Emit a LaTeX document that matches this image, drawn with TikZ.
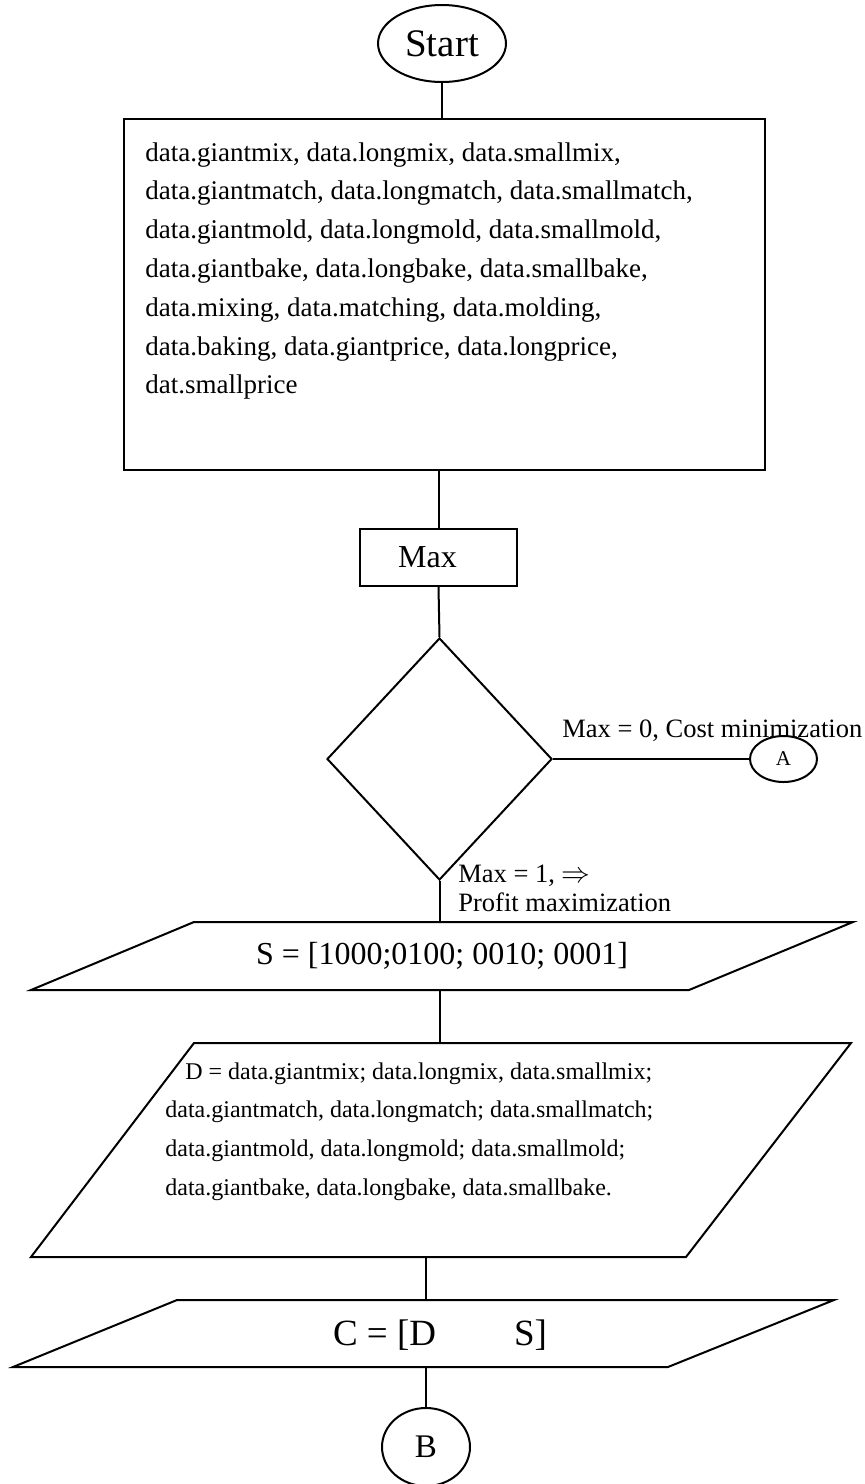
\documentclass[tikz,border=0pt]{standalone}
\usepackage{fontspec}
\setmainfont{Liberation Serif}
\usetikzlibrary{positioning, shapes.geometric}
\tikzset{
    flow/.style={line width=1pt},
    terminal/.style={ellipse, draw, line width=1pt, inner sep=0pt},
    process/.style={rectangle, draw, line width=1pt, inner sep=0pt},
    decision/.style={diamond, draw, line width=1pt, inner sep=0pt},
    txt/.style={inner sep=0pt, align=left},
  }
\begin{document}
\begin{tikzpicture}[x=0.5pt, y=-0.5pt]
\useasboundingbox (0,0) rectangle (864,1484);
% top part
\node[terminal, minimum width=64pt, minimum height=38.5pt, font=\fontsize{19.5}{22}\selectfont] (start) at (442,43.5) {Start};
\node[process, minimum width=320.5pt, minimum height=175.5pt] (databox) at (444.5,294.5) {};
\node[txt, anchor=north west, font=\fontsize{13.5}{19.4}\selectfont] (datatxt) at (145,142) {data.giantmix, data.longmix, data.smallmix,\\
data.giantmatch, data.longmatch, data.smallmatch,\\
data.giantmold, data.longmold, data.smallmold,\\
data.giantbake, data.longbake, data.smallbake,\\
data.mixing, data.matching, data.molding,\\
data.baking, data.giantprice, data.longprice,\\
dat.smallprice};
\node[process, minimum width=78.5pt, minimum height=28.5pt, font=\fontsize{16}{18}\selectfont] (maxbox) at (438.5,557.5) {Max\hspace*{11pt}};
% decision
\node[decision, minimum width=112.5pt, minimum height=121pt] (choice) at (439.5,759) {};
\node[terminal, minimum width=33.5pt, minimum height=23pt, font=\fontsize{10.5}{12}\selectfont] (conA) at (783.5,759) {A};
\node[txt, anchor=base west, font=\fontsize{13.25}{16}\selectfont] (costlbl) at (562,737) {Max = 0, Cost minimization};
\node[txt, anchor=north west, font=\fontsize{13.25}{14.5}\selectfont] (profitlbl) at (458,865) {Max = 1, $\Rightarrow$\\Profit maximization};
% matrices (slanted boxes)
\draw[flow] (31,990) -- (194,922) -- (853,922) -- (689,990) -- cycle;
\coordinate (stop) at (439.5,922);
\coordinate (sbot) at (439.5,990);
\node[txt, font=\fontsize{16}{19}\selectfont] (stxt) at (442,956) {S = [1000;0100; 0010; 0001]};
\draw[flow] (31,1257) -- (194,1043) -- (851,1043) -- (686,1257) -- cycle;
\coordinate (dtop) at (439.5,1043);
\coordinate (dbot) at (426,1257);
\node[txt, anchor=north west, font=\fontsize{12}{19.4}\selectfont] (dtxt) at (165,1062) {\hspace*{10pt}D = data.giantmix; data.longmix, data.smallmix;\\
data.giantmatch, data.longmatch; data.smallmatch;\\
data.giantmold, data.longmold; data.smallmold;\\
data.giantbake, data.longbake, data.smallbake.};
\draw[flow] (13,1367) -- (177,1300) -- (834,1300) -- (668,1367) -- cycle;
\coordinate (ctop) at (426,1300);
\coordinate (cbot) at (426,1367);
\node[txt, font=\fontsize{18.5}{22}\selectfont] (ctxt) at (440,1335) {C = [D\hspace{39pt}S]};
\node[terminal, minimum width=44pt, minimum height=39pt, font=\fontsize{16.5}{19}\selectfont] (conB) at (426,1447) {B};
% connectors
\draw[flow] (start.south) -- (start.south |- databox.north);
\draw[flow] (maxbox.north |- databox.south) -- (maxbox.north);
\draw[flow] (maxbox.south) -- (choice.north);
\draw[flow] (choice.east) -- (conA.west);
\draw[flow] (choice.south) -- (stop);
\draw[flow] (sbot) -- (dtop);
\draw[flow] (dbot) -- (ctop);
\draw[flow] (cbot) -- (conB.north);
\end{tikzpicture}
\end{document}
